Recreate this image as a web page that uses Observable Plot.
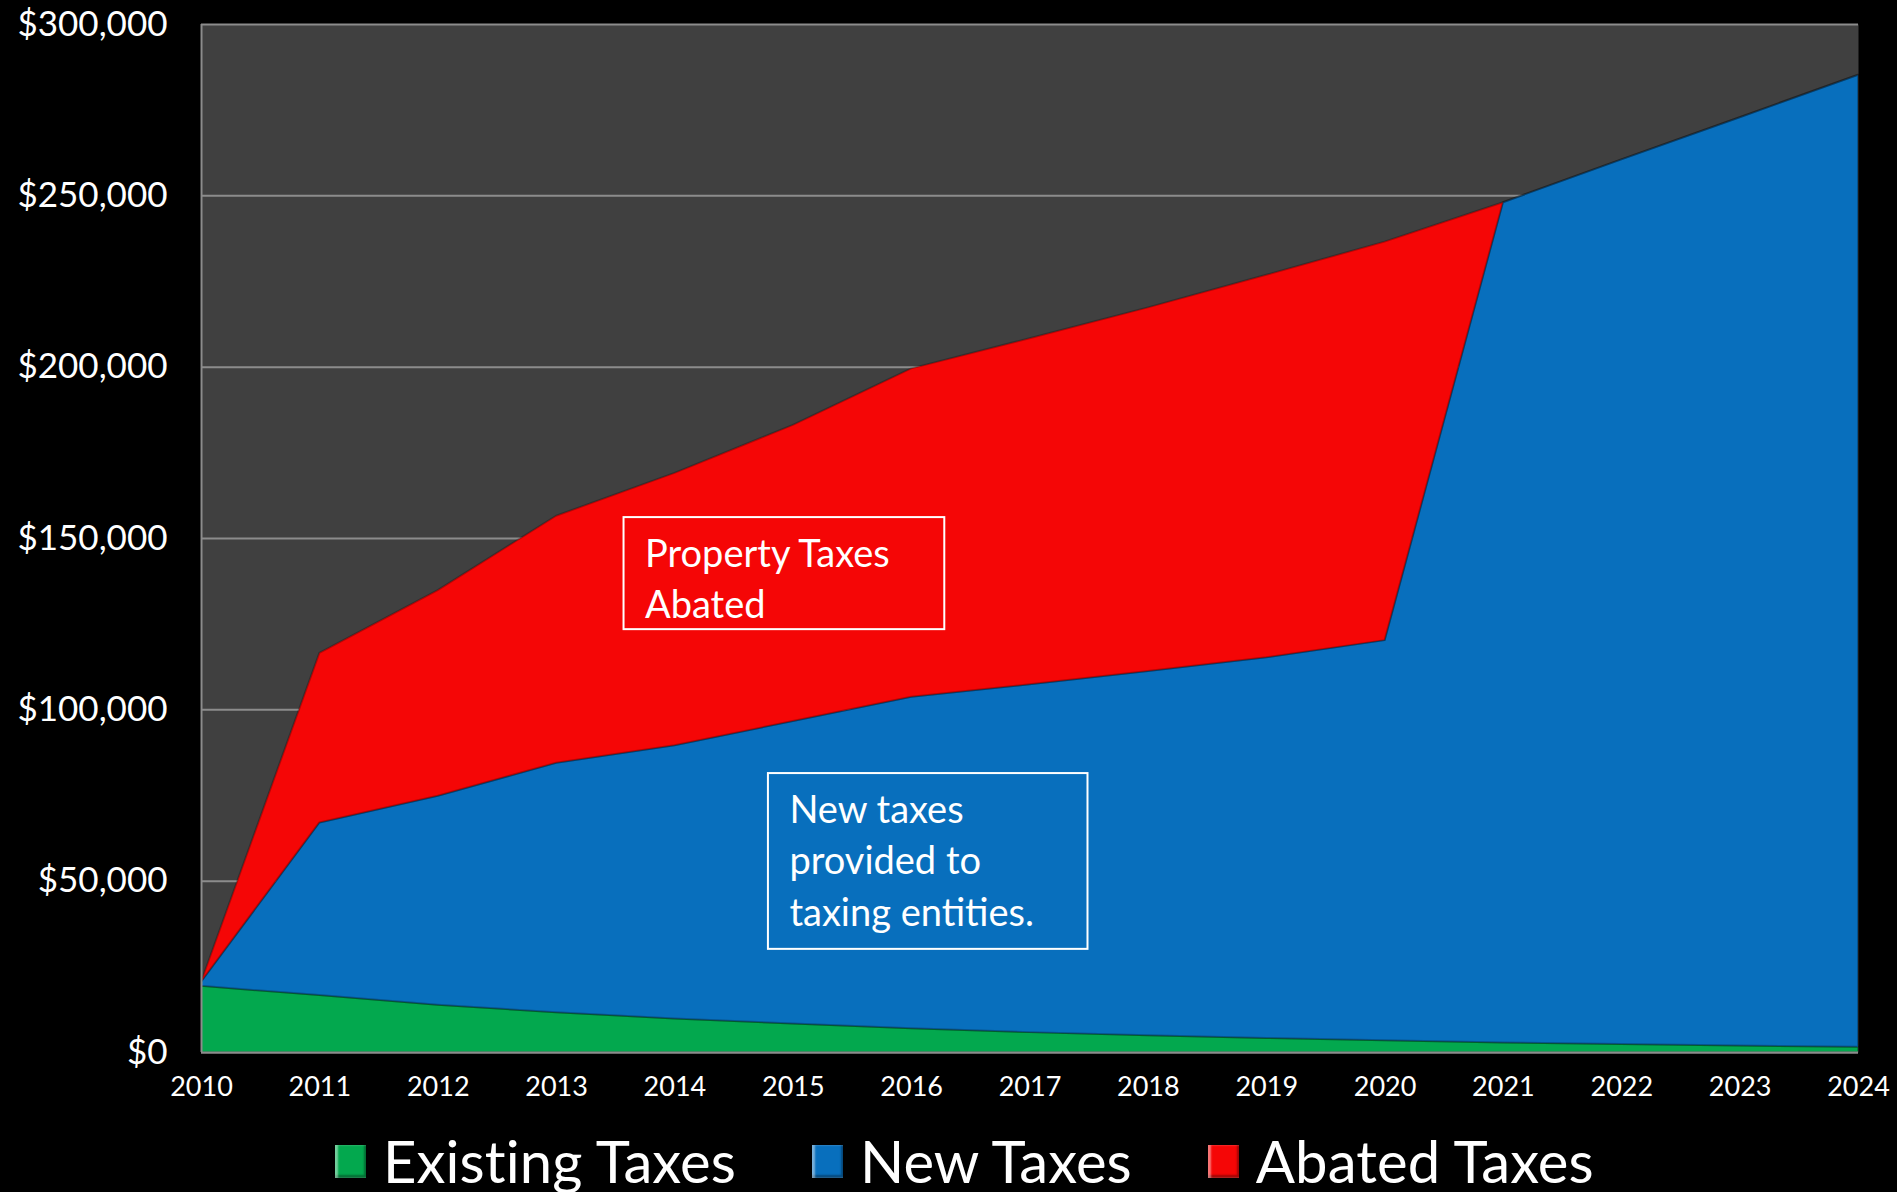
<!DOCTYPE html>
<html>
<head>
<meta charset="utf-8">
<script src="https://cdn.jsdelivr.net/npm/d3@7"></script>
<script src="https://cdn.jsdelivr.net/npm/@observablehq/plot@0.6"></script>
<style>
  html, body { margin: 0; padding: 0; background: #000; overflow: hidden; }
  #wrap { position: relative; width: 1897px; height: 1192px; background: #000; font-family: Lato, "Open Sans", sans-serif; }
  #legend { position: absolute; left: 335px; top: 1130px; height: 62px; line-height: 62px; display: flex; align-items: center; color: #fff; font-size: 58px; letter-spacing: 0.1px; }
  .item { display: flex; align-items: center; margin-right: 76px; height: 62px; }
  .sw { width: 31px; height: 33px; margin-right: 17px; box-shadow: inset 3px 0 2px rgba(255,255,255,0.45), inset -2px -3px 2px rgba(0,0,0,0.35); }
</style>
</head>
<body>
<div id="wrap"><div id="chart"></div><div id="legend"></div></div>
<script>
const years = [2010, 2011, 2012, 2013, 2014, 2015, 2016, 2017, 2018, 2019, 2020, 2021, 2022, 2023, 2024];
const seriesNames = ["Existing Taxes", "New Taxes", "Abated Taxes"];
const seriesColors = ["#03a84e", "#086fbd", "#f50606"];
const existingTaxes = [19300, 16600, 13800, 11600, 9800, 8300, 6900, 5800, 4900, 4100, 3400, 2800, 2300, 1900, 1500];
const newTaxes = [1200, 50400, 61000, 72800, 79700, 88300, 96800, 101500, 106300, 111100, 116800, 245200, 258200, 270900, 283700];
const abatedTaxes = [0, 49500, 60000, 72100, 79500, 86400, 95800, 101000, 106100, 111600, 116300, 0, 0, 0, 0];
const yTicks = [0, 50000, 100000, 150000, 200000, 250000, 300000];

const noteTexts = ["Property Taxes\nAbated", "New taxes\nprovided to\ntaxing entities."];
const noteX1 = [2013.57, 2014.79];
const noteX2 = [2016.28, 2017.49];
const noteY1 = [123400, 30100];
const noteY2 = [156100, 81400];

const seriesValues = [existingTaxes, newTaxes, abatedTaxes];
const long = years.flatMap((yr, i) => seriesNames.map((s, k) => ({year: yr, series: s, value: seriesValues[k][i]})));
const notes = noteTexts.map((t, i) => ({text: t, x1: noteX1[i], x2: noteX2[i], y1: noteY1[i], y2: noteY2[i]}));

const chart = Plot.plot({
  width: 1897,
  height: 1115,
  marginLeft: 201,
  marginRight: 39,
  marginTop: 24,
  marginBottom: 63,
  style: {background: "#000", color: "#fff", fontFamily: "Lato, 'Open Sans', sans-serif"},
  x: {domain: [2010, 2024]},
  y: {domain: [0, 300000]},
  color: {domain: seriesNames, range: seriesColors},
  marks: [
    Plot.frame({fill: "#404040", stroke: null}),
    Plot.ruleY(yTicks, {stroke: "#8c8c8c", strokeWidth: 2}),
    Plot.areaY(long, {x: "year", y: "value", z: "series", fill: "series", order: seriesNames, stroke: "#000", strokeOpacity: 0.25, strokeWidth: 2}),
    Plot.ruleX([2010], {stroke: "#8c8c8c", strokeWidth: 2}),
    Plot.ruleY([0], {stroke: "#8c8c8c", strokeWidth: 2}),
    Plot.rect(notes, {x1: "x1", x2: "x2", y1: "y1", y2: "y2", fill: "none", stroke: "#fff", strokeWidth: 2}),
    Plot.text(notes, {x: "x1", y: "y2", text: "text", textAnchor: "start", lineAnchor: "top", dx: 21, dy: 13, fontSize: 38, lineHeight: 1.35, fill: "#fff"}),
    Plot.axisY({ticks: yTicks, tickFormat: d3.format("$,"), tickSize: 0, tickPadding: 34, fontSize: 35, color: "#fff", label: null}),
    Plot.axisX({ticks: years, tickFormat: "d", tickSize: 0, tickPadding: 24, fontSize: 27, color: "#fff", label: null})
  ]
});
document.getElementById("chart").appendChild(chart);

const legend = document.getElementById("legend");
seriesNames.forEach((s, i) => {
  const item = document.createElement("div");
  item.className = "item";
  const sw = document.createElement("div");
  sw.className = "sw";
  sw.style.background = seriesColors[i];
  const lab = document.createElement("span");
  lab.textContent = s;
  item.appendChild(sw);
  item.appendChild(lab);
  legend.appendChild(item);
});
</script>
</body>
</html>
